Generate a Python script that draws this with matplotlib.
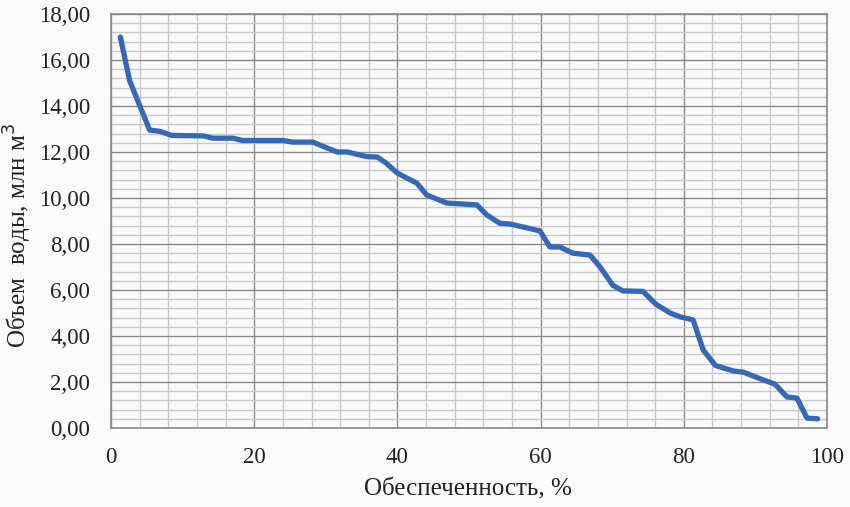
import matplotlib.pyplot as plt
from matplotlib.ticker import MultipleLocator, FuncFormatter

# обеспеченность, % и объем воды, млн м3
obesp = [1.3, 2.6, 5.4, 6.8, 8.5, 12.9, 14.2, 17.0, 18.4, 24.0, 25.4, 28.2,
         30.2, 31.6, 33.0, 35.7, 37.2, 38.5, 39.9, 41.3, 42.7, 44.1, 46.9,
         51.1, 52.5, 54.3, 55.7, 58.1, 59.9, 61.3, 62.7, 64.5, 66.9, 68.3,
         70.1, 71.5, 74.3, 76.1, 78.1, 79.5, 81.3, 82.7, 84.4, 86.9, 88.3,
         91.1, 92.7, 94.4, 95.8, 97.2, 98.7]
obem = [17.0, 15.1, 12.95, 12.9, 12.72, 12.7, 12.6, 12.6, 12.5, 12.5, 12.43,
        12.43, 12.17, 12.0, 12.0, 11.8, 11.78, 11.5, 11.1, 10.87, 10.65, 10.13,
        9.78, 9.7, 9.26, 8.9, 8.87, 8.7, 8.57, 7.87, 7.87, 7.6, 7.52, 7.0,
        6.2, 5.96, 5.94, 5.38, 5.0, 4.83, 4.7, 3.39, 2.72, 2.48, 2.43,
        2.09, 1.91, 1.35, 1.3, 0.43, 0.4]

plt.rcParams['font.family'] = ['Liberation Serif', 'DejaVu Serif']

fig = plt.figure(figsize=(8.5, 5.07), dpi=100, facecolor='#fafafa')
ax = fig.add_axes([0.1306, 0.1558, 0.8424, 0.8166])
ax.set_facecolor('#fafafa')

ax.plot(obesp, obem, color='#3569b8', lw=3.8, solid_joinstyle='round',
        solid_capstyle='round', zorder=3)

ax.set_xlim(0, 100)
ax.set_ylim(0, 18)
ax.xaxis.set_major_locator(MultipleLocator(20))
ax.xaxis.set_minor_locator(MultipleLocator(4))
ax.yaxis.set_major_locator(MultipleLocator(2))
ax.yaxis.set_minor_locator(MultipleLocator(0.4))
ax.yaxis.set_major_formatter(FuncFormatter(lambda v, p: f'{v:.2f}'.replace('.', ',')))

ax.grid(which='minor', color='#c9c9cc', lw=1.0)
ax.grid(which='major', color='#8a8a8a', lw=1.0)
ax.set_axisbelow(True)

for s in ax.spines.values():
    s.set_color('#8a8a8a')
    s.set_linewidth(1.2)

ax.tick_params(which='both', length=0, labelsize=16.5, colors='#222222')
ax.tick_params(axis='y', pad=15)
ax.tick_params(axis='x', pad=14)

fig.text(0.551, 0.034, 'Обеспеченность, %', ha='center', va='center',
         fontsize=18, color='#222222')
fig.text(0.021, 0.535, 'Объем  воды, млн м$^3$', ha='center', va='center',
         rotation=90, fontsize=18, color='#222222')

fig.savefig('out.png', dpi=100, facecolor=fig.get_facecolor())
